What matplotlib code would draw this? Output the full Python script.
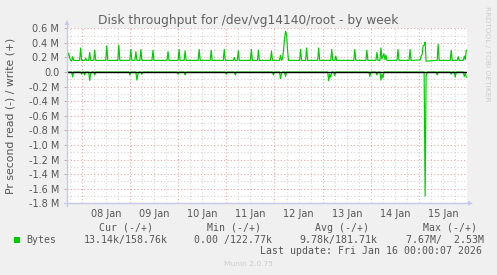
import numpy as np
import matplotlib
matplotlib.use("Agg")
import matplotlib.pyplot as plt
from matplotlib.lines import Line2D
from matplotlib.patches import Polygon, Rectangle

# hours relative to 08 Jan 00:00, values in M (1e6 bytes/s)
write_hours = [-7.3, -7.0, -6.5, -6.0, -5.5, -5.0, -4.5, -4.0, -1.0, -0.5, 0.0, 1.5, 2.0, 2.5,
               3.5, 4.0, 4.5, 6.0, 6.5, 7.0, 12.0, 12.5, 13.0, 18.0, 18.5, 19.0,
               24.0, 24.5, 25.0, 26.5, 27.0, 27.5, 29.0, 29.5, 30.0, 35.0, 35.5, 36.0,
               42.5, 43.0, 43.5, 48.0, 48.5, 49.0, 51.0, 51.5, 52.0, 58.0, 58.5, 59.0,
               64.0, 64.5, 65.0, 70.5, 71.0, 71.5, 75.5, 76.0, 76.5, 77.5, 78.0, 78.5,
               84.0, 84.5, 85.0, 87.5, 88.0, 88.5, 94.0, 94.5, 95.0, 98.5, 99.0, 99.5,
               100.0, 100.5, 101.0, 101.5, 102.0, 102.5, 103.0, 108.5, 109.0, 109.5,
               111.5, 112.0, 112.5, 117.5, 118.0, 118.5, 124.0, 124.5, 125.0, 126.0, 126.5, 127.0,
               135.5, 136.0, 136.5, 141.5, 142.0, 142.5, 146.5, 147.0, 147.5,
               148.5, 149.0, 149.5, 150.0, 150.5, 151.0, 151.5, 152.0, 157.0, 157.5, 158.0,
               163.0, 163.5, 164.0, 168.5, 169.0, 169.5, 170.0, 170.5, 171.0, 171.5,
               177.0, 177.5, 178.0, 183.5, 184.0, 184.5, 187.0, 187.5, 188.0,
               190.0, 190.5, 191.0, 191.5]
write_mb = [0.20, 0.22, 0.26, 0.20, 0.16, 0.15, 0.21, 0.16, 0.16, 0.33, 0.16, 0.16, 0.19, 0.16,
            0.16, 0.27, 0.16, 0.16, 0.30, 0.16, 0.16, 0.36, 0.16, 0.16, 0.37, 0.16,
            0.16, 0.31, 0.16, 0.16, 0.28, 0.16, 0.16, 0.31, 0.16, 0.16, 0.30, 0.16,
            0.16, 0.28, 0.16, 0.16, 0.31, 0.16, 0.16, 0.29, 0.16, 0.16, 0.31, 0.16,
            0.16, 0.30, 0.16, 0.16, 0.31, 0.16, 0.16, 0.20, 0.16, 0.16, 0.29, 0.16,
            0.16, 0.31, 0.16, 0.16, 0.30, 0.16, 0.16, 0.29, 0.16, 0.16, 0.23, 0.16,
            0.18, 0.30, 0.45, 0.56, 0.52, 0.30, 0.16, 0.16, 0.31, 0.16,
            0.16, 0.33, 0.16, 0.16, 0.33, 0.16, 0.16, 0.31, 0.16, 0.16, 0.22, 0.16,
            0.16, 0.31, 0.16, 0.16, 0.30, 0.16, 0.16, 0.27, 0.16,
            0.16, 0.33, 0.18, 0.22, 0.25, 0.17, 0.23, 0.16, 0.16, 0.31, 0.16,
            0.16, 0.31, 0.16, 0.165, 0.22, 0.24, 0.36, 0.37, 0.41, 0.15,
            0.16, 0.38, 0.16, 0.16, 0.30, 0.16, 0.16, 0.21, 0.16,
            0.16, 0.22, 0.17, 0.30]

read_hours = [-7.3, -5.0, -4.5, -4.0, -0.5, 0.0, 0.5, 1.0, 1.5, 2.0, 3.5, 4.0, 4.5, 5.0,
              6.0, 6.5, 7.0, 23.5, 24.0, 24.5, 27.0, 27.5, 28.0, 28.5, 29.5, 30.0, 30.5,
              47.5, 48.0, 48.5, 51.0, 51.5, 52.0, 71.5, 72.0, 72.5, 76.0, 76.5, 77.0,
              95.0, 95.5, 96.0, 98.5, 99.0, 99.5, 100.0, 101.0, 101.5, 102.0,
              122.5, 123.0, 123.5, 124.0, 124.5, 125.5, 126.0, 126.5,
              143.0, 143.5, 144.0, 146.5, 147.0, 147.5, 148.5, 149.0, 149.5, 150.0, 150.5,
              170.5, 171.0, 171.5, 172.0, 176.5, 177.0, 177.5, 183.5, 184.0, 184.5,
              185.5, 186.0, 186.5, 190.0, 190.5, 191.0, 191.5]
read_mb = [0.0, 0.0, -0.065, 0.0, 0.0, -0.03, 0.0, 0.0, -0.04, 0.0, 0.0, -0.115, -0.02, 0.0,
           0.0, -0.04, 0.0, 0.0, -0.04, 0.0, 0.0, -0.11, -0.03, 0.0, 0.0, -0.03, 0.0,
           0.0, -0.03, 0.0, 0.0, -0.04, 0.0, 0.0, -0.03, 0.0, 0.0, -0.04, 0.0,
           0.0, -0.04, 0.0, 0.0, -0.09, -0.02, 0.0, 0.0, -0.06, 0.0,
           0.0, -0.12, -0.03, -0.07, 0.0, 0.0, -0.05, 0.0,
           0.0, -0.06, 0.0, 0.0, -0.04, 0.0, 0.0, -0.11, -0.03, -0.08, 0.0,
           0.0, -1.70, -0.05, 0.0, 0.0, -0.04, 0.0, 0.0, -0.03, 0.0,
           0.0, -0.07, 0.0, 0.0, -0.06, -0.02, -0.07]

day_labels = ["08 Jan", "09 Jan", "10 Jan", "11 Jan", "12 Jan", "13 Jan", "14 Jan", "15 Jan"]
y_ticks = [0.6, 0.4, 0.2, 0.0, -0.2, -0.4, -0.6, -0.8, -1.0, -1.2, -1.4, -1.6, -1.8]

legend_cols = ["Cur (-/+)", "Min (-/+)", "Avg (-/+)", "Max (-/+)"]
legend_vals = ["13.14k/158.76k", "0.00 /122.77k", "9.78k/181.71k", "7.67M/  2.53M"]
last_update = "Last update: Fri Jan 16 00:00:07 2026"

W, H = 497, 275
GREEN = "#00CC00"
TXT = "#555555"
AXC = "#c8c8ee"


def fx(x):
    return x / W


def fy(y):
    return 1 - y / H


fig = plt.figure(figsize=(W / 100, H / 100), dpi=100, facecolor="#F0F0F0")
ax = fig.add_axes([fx(67), fy(203.3), fx(467.3) - fx(67), fy(28.3) - fy(203.3)])
ax.set_facecolor("white")
ax.set_xlim(-7.3, 192)
ax.set_ylim(-1.8, 0.6)

# grid: minor every 6h / 0.1M grey, major midnight / 0.2M pink
dot = (0, (1, 2))
for h in np.arange(-6, 192, 6):
    major = h % 24 == 0
    ax.axvline(h, color="#eaa8a8" if major else "#d4d4d4", lw=0.8, ls=dot, zorder=1)
for v in np.arange(-18, 7) / 10:
    major = round(v * 10) % 2 == 0
    ax.axhline(v, color="#eaa8a8" if major else "#d4d4d4", lw=0.8, ls=dot, zorder=1)

ax.plot(write_hours, write_mb, color=GREEN, lw=0.85, zorder=3)
ax.plot(read_hours, read_mb, color=GREEN, lw=0.85, zorder=3)
ax.axhline(0, color="black", lw=1.0, zorder=4)

for s in ax.spines.values():
    s.set_visible(False)

ax.set_yticks(y_ticks, [("%.1f M" % v) if v != 0 else "0.0" for v in y_ticks])
ax.tick_params(axis="y", length=2, width=0.6, color="#aaaaaa", pad=3.5,
               labelsize=7, labelcolor=TXT)
ax.set_xticks([12 + 24 * i for i in range(len(day_labels))], day_labels)
ax.tick_params(axis="x", length=0, pad=4, labelsize=7, labelcolor=TXT)

# axis lines with arrows (rrdtool style)
fig.add_artist(Line2D([fx(67), fx(67)], [fy(206), fy(24)], color=AXC, lw=1))
fig.add_artist(Polygon([[fx(64.5), fy(25)], [fx(69.5), fy(25)], [fx(67), fy(20)]],
                       closed=True, color=AXC, lw=0))
fig.add_artist(Line2D([fx(64), fx(468)], [fy(203.3), fy(203.3)], color=AXC, lw=1))
fig.add_artist(Polygon([[fx(468), fy(200.8)], [fx(468), fy(205.8)], [fx(473), fy(203.3)]],
                       closed=True, color=AXC, lw=0))

fig.text(fx(248.5), fy(24), "Disk throughput for /dev/vg14140/root - by week",
         ha="center", va="baseline", fontsize=8.8, color="#606060")
fig.text(fx(10.5), fy(116), "Pr second read (-) / write (+)", rotation=90,
         ha="center", va="center", fontsize=7.8, color=TXT)
fig.text(fx(487), fy(53.5), "RRDTOOL / TOBI OETIKER", rotation=270,
         ha="center", va="center", fontsize=5.4, color="#cccccc")

# legend block
mono = "DejaVu Sans Mono"
head_x = [99, 206.7, 315, 422.7]
val_x = [83.3, 194.3, 299.3, 405.7]
for name, xh in zip(legend_cols, head_x):
    fig.text(fx(xh), fy(227.7), name, ha="left", va="center", family=mono,
             fontsize=7.1, color=TXT)
for val, xv in zip(legend_vals, val_x):
    fig.text(fx(xv), fy(240), val, ha="left", va="center", family=mono,
             fontsize=7.1, color=TXT)
fig.add_artist(Rectangle((fx(14), fy(242.5)), fx(5.5), fy(0) - fy(5.5),
                         color=GREEN, lw=0))
fig.text(fx(26.7), fy(240), "Bytes", ha="left", va="center", family=mono,
         fontsize=7.1, color=TXT)
fig.text(fx(482.3), fy(251), last_update, ha="right", va="center", family=mono,
         fontsize=7.1, color=TXT)
fig.text(fx(248), fy(264.3), "Munin 2.0.75", ha="center", va="center",
         fontsize=5.4, color="#cccccc")

fig.savefig("out.png", dpi=100, facecolor=fig.get_facecolor())
